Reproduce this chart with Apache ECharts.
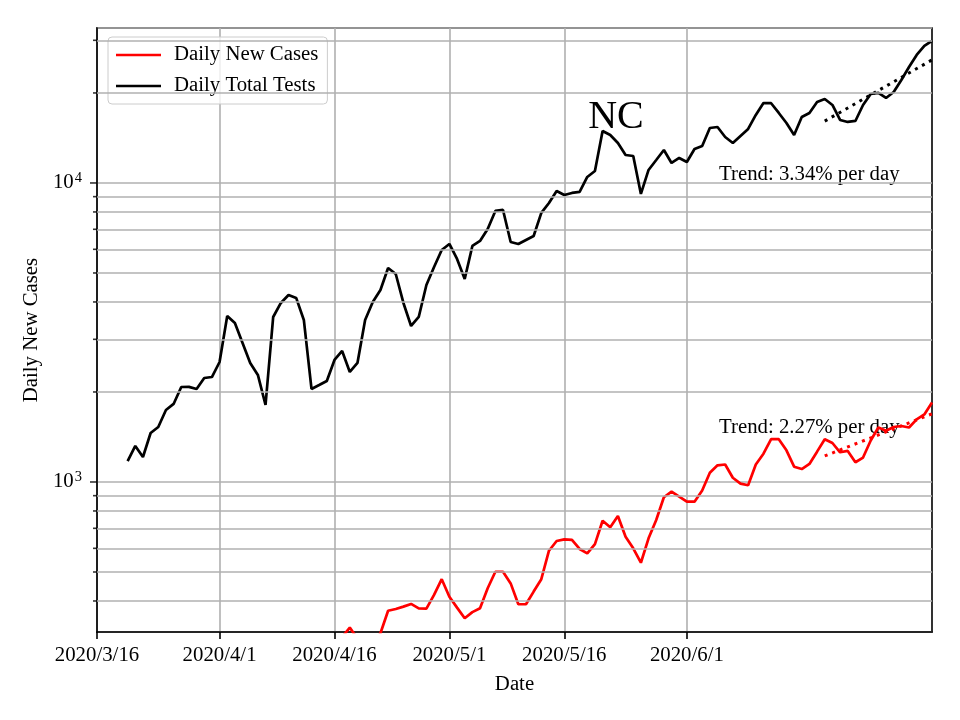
<!DOCTYPE html>
<html><head><meta charset="utf-8">
<script src="https://cdn.jsdelivr.net/npm/echarts@6/dist/echarts.min.js"></script>
<style>html,body{margin:0;padding:0;background:#fff}#c{width:960px;height:720px}</style>
</head><body><div id="c"></div>
<script>
// ---- data ----
const firstDay = [2020, 3, 16];   // x axis starts 2020/3/16
const dayCount = 110;             // through 2020/7/3
const tickLabels = ['2020/3/16','2020/4/1','2020/4/16','2020/5/1','2020/5/16','2020/6/1'];
const seriesStartDate = '2020/3/20';

const dailyTests = [
  1175, 1320, 1212, 1458, 1527, 1741, 1824, 2078, 2080, 2047,
  2227, 2244, 2519, 3592, 3402, 2917, 2500, 2280, 1809, 3563,
  3969, 4222, 4126, 3482, 2047, 2110, 2176, 2559, 2743, 2333,
  2500, 3482, 3999, 4387, 5196, 4962, 3969, 3324, 3563, 4560,
  5237, 5969, 6252, 5569, 4775, 6156, 6397, 7017, 8062, 8123,
  6348, 6252, 6447, 6647, 7939, 8572, 9402, 9118, 9260, 9331,
  10474, 10968, 14925, 14470, 13604, 12406, 12311, 9188, 11054, 11937,
  12894, 11665, 12123, 11754, 12994, 13296, 15273, 15390, 14251, 13604,
  14363, 15157, 16883, 18513, 18480, 17146, 15874, 14470, 16624, 17146,
  18655, 19090, 18233, 16245, 15996, 16120, 18233, 19844, 20000, 19240,
  20150, 22107, 24434, 26800, 28720, 29850
];
const dailyCases = [
  60, 70, 90, 100, 110, 130, 150, 160, 170, 150,
  180, 190, 200, 220, 240, 230, 200, 190, 180, 230,
  250, 260, 240, 210, 200, 190, 240, 270, 303, 326,
  299, 270, 285, 312, 371, 376, 383, 391, 378, 377,
  419, 473, 413, 380, 350, 367, 378, 441, 501, 501,
  458, 390, 390, 430, 473, 589, 635, 643, 640, 597,
  577, 620, 742, 706, 770, 656, 600, 537, 648, 746,
  889, 929, 894, 859, 859, 937, 1074, 1137, 1144, 1033,
  987, 975, 1144, 1243, 1392, 1390, 1276, 1125, 1105, 1149,
  1263, 1390, 1350, 1257, 1270, 1164, 1207, 1376, 1521, 1483,
  1527, 1539, 1521, 1620, 1682, 1845
];
const trendDates = ['2020/6/19', '2020/7/3'];
const testsTrend = [16100, 25800];
const casesTrend = [1222, 1690];
const majorYTicks = [1000, 10000];
const minorYTicks = [400, 500, 600, 700, 800, 900, 2000, 3000, 4000, 5000, 6000, 7000, 8000, 9000, 20000, 30000];

// ---- build ----
function buildDates() {
  const out = [];
  const d = new Date(firstDay[0], firstDay[1] - 1, firstDay[2]);
  for (let i = 0; i < dayCount; i++) {
    out.push(d.getFullYear() + '/' + (d.getMonth() + 1) + '/' + d.getDate());
    d.setDate(d.getDate() + 1);
  }
  return out;
}
const dates = buildDates();
const offset = dates.indexOf(seriesStartDate);
const pad = new Array(offset).fill(null);
const testsData = pad.concat(dailyTests);
const casesData = pad.concat(dailyCases);

const FONT = '"Liberation Serif", "Times New Roman", serif';
const FS = 20.8;
const isTick = (i, v) => tickLabels.indexOf(v) >= 0;

const tickMarks = majorYTicks.map(v => ({value: [dates[0], v], symbolSize: [7, 1.6], symbolOffset: [-3.5, 0]}))
  .concat(minorYTicks.map(v => ({value: [dates[0], v], symbolSize: [4, 1.6], symbolOffset: [-2, 0]})));

const chart = echarts.init(document.getElementById('c'));
chart.setOption({
  animation: false,
  textStyle: {fontFamily: FONT},
  grid: {left: 97, top: 28, width: 835, height: 604, show: true, borderColor: '#000', borderWidth: 1.6, backgroundColor: 'transparent'},
  legend: {
    orient: 'vertical', left: 108, top: 37, padding: [7, 9, 7, 8], itemGap: 9,
    itemWidth: 45, itemHeight: 2.6, icon: 'rect',
    backgroundColor: 'rgba(255,255,255,0.8)', borderColor: '#cccccc', borderWidth: 1, borderRadius: 4,
    textStyle: {fontFamily: FONT, fontSize: FS, color: '#000', padding: [0, 0, 0, 8], lineHeight: 22},
    data: ['Daily New Cases', 'Daily Total Tests']
  },
  xAxis: {
    type: 'category', data: dates, boundaryGap: false,
    name: 'Date', nameLocation: 'middle', nameGap: 42,
    nameTextStyle: {fontFamily: FONT, fontSize: FS, color: '#000'},
    axisLine: {lineStyle: {color: '#000', width: 1.6}},
    axisTick: {interval: isTick, length: 7, lineStyle: {color: '#000', width: 1.6}},
    axisLabel: {interval: isTick, margin: 13, fontFamily: FONT, fontSize: FS, color: '#000'},
    splitLine: {show: true, interval: isTick, lineStyle: {color: '#b0b0b0', width: 1.6}}
  },
  yAxis: {
    type: 'log', logBase: 10, min: 315, max: 32980,
    name: 'Daily New Cases', nameLocation: 'middle', nameGap: 52, nameRotate: 90,
    nameTextStyle: {fontFamily: FONT, fontSize: FS, color: '#000'},
    axisLine: {show: true, lineStyle: {color: '#000', width: 1.6}},
    axisTick: {show: false},
    axisLabel: {
      margin: 15,
      formatter: function (v) {
        const e = Math.log10(v);
        if (Math.abs(e - Math.round(e)) < 1e-6) return '{b|10}{s|' + Math.round(e) + '}';
        return '';
      },
      rich: {
        b: {fontFamily: FONT, fontSize: FS, color: '#000', lineHeight: 24},
        s: {fontFamily: FONT, fontSize: 14.5, color: '#000', verticalAlign: 'bottom', padding: [0, 0, 10, 1]}
      }
    },
    splitLine: {show: true, lineStyle: {color: '#b0b0b0', width: 1.6}}
  },
  series: [
    {
      name: 'Daily New Cases', type: 'line', data: casesData, symbol: 'none', z: 3,
      lineStyle: {color: '#ff0000', width: 2.7}, itemStyle: {color: '#ff0000'}, clip: true
    },
    {
      name: 'Daily Total Tests', type: 'line', data: testsData, symbol: 'none', z: 3,
      lineStyle: {color: '#000000', width: 2.7}, itemStyle: {color: '#000000'}, clip: true
    },
    {
      name: 'tests trend', type: 'line', symbol: 'none', z: 4,
      data: trendDates.map((d, i) => [d, testsTrend[i]]),
      lineStyle: {color: '#000', width: 3, type: [3, 5]}
    },
    {
      name: 'cases trend', type: 'line', symbol: 'none', z: 4,
      data: trendDates.map((d, i) => [d, casesTrend[i]]),
      lineStyle: {color: '#ff0000', width: 3, type: [3, 5]}
    },
    {
      name: 'axis decor', type: 'scatter', z: 1, silent: true, clip: false,
      symbol: 'rect', itemStyle: {color: '#000'},
      data: tickMarks,
      markLine: {
        silent: true, symbol: 'none', label: {show: false},
        lineStyle: {color: '#b0b0b0', width: 1.6, type: 'solid'},
        emphasis: {disabled: true},
        data: minorYTicks.map(v => ({yAxis: v}))
      }
    }
  ],
  graphic: [
    {type: 'text', x: 616, y: 117, silent: true, style: {text: 'NC', font: '40px ' + FONT, fill: '#000', textAlign: 'center', textVerticalAlign: 'middle', align: 'center', verticalAlign: 'middle'}},
    {type: 'text', x: 719, y: 175, silent: true, style: {text: 'Trend: 3.34% per day', font: FS + 'px ' + FONT, fill: '#000', textAlign: 'left', textVerticalAlign: 'middle', align: 'left', verticalAlign: 'middle'}},
    {type: 'text', x: 719, y: 428, silent: true, style: {text: 'Trend: 2.27% per day', font: FS + 'px ' + FONT, fill: '#000', textAlign: 'left', textVerticalAlign: 'middle', align: 'left', verticalAlign: 'middle'}}
  ]
});
</script>
</body></html>
